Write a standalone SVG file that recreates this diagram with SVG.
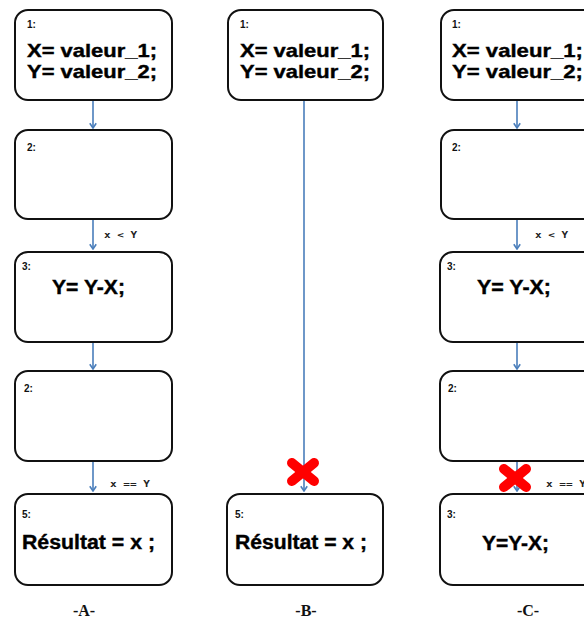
<svg xmlns="http://www.w3.org/2000/svg" width="584" height="621" viewBox="0 0 584 621">
<style>
.box{fill:#fff;stroke:#111;stroke-width:2}
.big{font-family:"Liberation Sans",Arial,sans-serif;font-weight:bold;font-size:19px;fill:#000;stroke:#000;stroke-width:0.4}
.num{font-family:"Liberation Sans",Arial,sans-serif;font-weight:bold;font-size:10px;fill:#111}
.edge{font-family:"DejaVu Sans Mono","Liberation Mono",monospace;font-weight:bold;font-size:9px;fill:#222}
.cap{font-family:"Liberation Serif","Times New Roman",serif;font-weight:bold;font-size:16px;fill:#111;text-anchor:middle}
.con{stroke:#4a7ebb;stroke-width:1.6;fill:none}
.x{stroke:#ff0000;stroke-width:10;stroke-linecap:round}
</style>
<defs>
<marker id="arr" viewBox="0 0 10 10" refX="9" refY="5" markerWidth="8" markerHeight="8" orient="auto" markerUnits="userSpaceOnUse">
<path d="M3 1 L9 5 L3 9" fill="none" stroke="#4a7ebb" stroke-width="2"/>
</marker>
</defs>
<rect width="584" height="621" fill="#fff"/>

<g id="connectors">
<line class="con" x1="93" y1="100" x2="93" y2="128" marker-end="url(#arr)"/>
<line class="con" x1="93" y1="219" x2="93" y2="249" marker-end="url(#arr)"/>
<line class="con" x1="93" y1="342" x2="93" y2="369" marker-end="url(#arr)"/>
<line class="con" x1="93" y1="461" x2="93" y2="491" marker-end="url(#arr)"/>
<line class="con" x1="304" y1="100" x2="304" y2="491" marker-end="url(#arr)"/>
<line class="con" x1="517" y1="100" x2="517" y2="128" marker-end="url(#arr)"/>
<line class="con" x1="517" y1="219" x2="517" y2="249" marker-end="url(#arr)"/>
<line class="con" x1="517" y1="342" x2="517" y2="369" marker-end="url(#arr)"/>
<line class="con" x1="517" y1="461" x2="517" y2="491" marker-end="url(#arr)"/>
<text class="edge" x="104" y="238" textLength="33" lengthAdjust="spacingAndGlyphs">x &lt; Y</text>
<text class="edge" x="110" y="487" textLength="40" lengthAdjust="spacingAndGlyphs">x == Y</text>
<text class="edge" x="535" y="238" textLength="33" lengthAdjust="spacingAndGlyphs">x &lt; Y</text>
<text class="edge" x="546" y="487" textLength="40" lengthAdjust="spacingAndGlyphs">x == Y</text>
</g>

<!-- Column A -->
<g id="A1"><rect class="box" x="15" y="10" width="157" height="90" rx="13"/>
<text class="num" x="27" y="28">1:</text>
<text class="big" x="27" y="57" textLength="130" lengthAdjust="spacingAndGlyphs">X= valeur_1;</text>
<text class="big" x="27" y="78" textLength="130" lengthAdjust="spacingAndGlyphs">Y= valeur_2;</text></g>
<g id="A2"><rect class="box" x="15" y="130" width="157" height="89" rx="13"/>
<text class="num" x="27" y="151">2:</text></g>
<g id="A3"><rect class="box" x="15" y="252" width="157" height="90" rx="13"/>
<text class="num" x="22" y="270">3:</text>
<text class="big" x="52" y="294" style="font-size:20px" textLength="73" lengthAdjust="spacingAndGlyphs">Y= Y-X;</text></g>
<g id="A4"><rect class="box" x="15" y="371" width="157" height="90" rx="13"/>
<text class="num" x="24" y="392">2:</text></g>
<g id="A5"><rect class="box" x="15" y="494" width="157" height="91" rx="13"/>
<text class="num" x="22" y="518">5:</text>
<text class="big" x="22" y="549" style="font-size:20px" textLength="133" lengthAdjust="spacingAndGlyphs">Résultat = x ;</text></g>
<text class="cap" x="84" y="616">-A-</text>

<!-- Column B -->
<g id="B1"><rect class="box" x="228" y="10" width="155" height="90" rx="13"/>
<text class="num" x="240" y="28">1:</text>
<text class="big" x="240" y="57" textLength="130" lengthAdjust="spacingAndGlyphs">X= valeur_1;</text>
<text class="big" x="240" y="78" textLength="130" lengthAdjust="spacingAndGlyphs">Y= valeur_2;</text></g>
<g id="B5"><rect class="box" x="227" y="494" width="156" height="91" rx="13"/>
<text class="num" x="235" y="518">5:</text>
<text class="big" x="235" y="549" style="font-size:20px" textLength="132" lengthAdjust="spacingAndGlyphs">Résultat = x ;</text></g>
<text class="cap" x="306" y="616">-B-</text>
<g id="crossB"><line class="x" x1="292" y1="463" x2="314" y2="481"/><line class="x" x1="314" y1="463" x2="292" y2="481"/></g>

<!-- Column C -->
<g id="C1"><rect class="box" x="441" y="10" width="157" height="90" rx="13"/>
<text class="num" x="452" y="28">1:</text>
<text class="big" x="452" y="57" textLength="131" lengthAdjust="spacingAndGlyphs">X= valeur_1;</text>
<text class="big" x="452" y="78" textLength="131" lengthAdjust="spacingAndGlyphs">Y= valeur_2;</text></g>
<g id="C2"><rect class="box" x="441" y="130" width="157" height="89" rx="13"/>
<text class="num" x="452" y="151">2:</text></g>
<g id="C3"><rect class="box" x="440" y="252" width="157" height="90" rx="13"/>
<text class="num" x="447" y="270">3:</text>
<text class="big" x="477" y="294" style="font-size:20px" textLength="74" lengthAdjust="spacingAndGlyphs">Y= Y-X;</text></g>
<g id="C4"><rect class="box" x="440" y="371" width="157" height="90" rx="13"/>
<text class="num" x="448" y="392">2:</text></g>
<g id="C5"><rect class="box" x="440" y="494" width="157" height="91" rx="13"/>
<text class="num" x="447" y="518">3:</text>
<text class="big" x="482" y="550" style="font-size:20px" textLength="67" lengthAdjust="spacingAndGlyphs">Y=Y-X;</text></g>
<text class="cap" x="528" y="616">-C-</text>
<g id="crossC"><line class="x" x1="504" y1="469" x2="526" y2="487"/><line class="x" x1="526" y1="469" x2="504" y2="487"/></g>
</svg>
